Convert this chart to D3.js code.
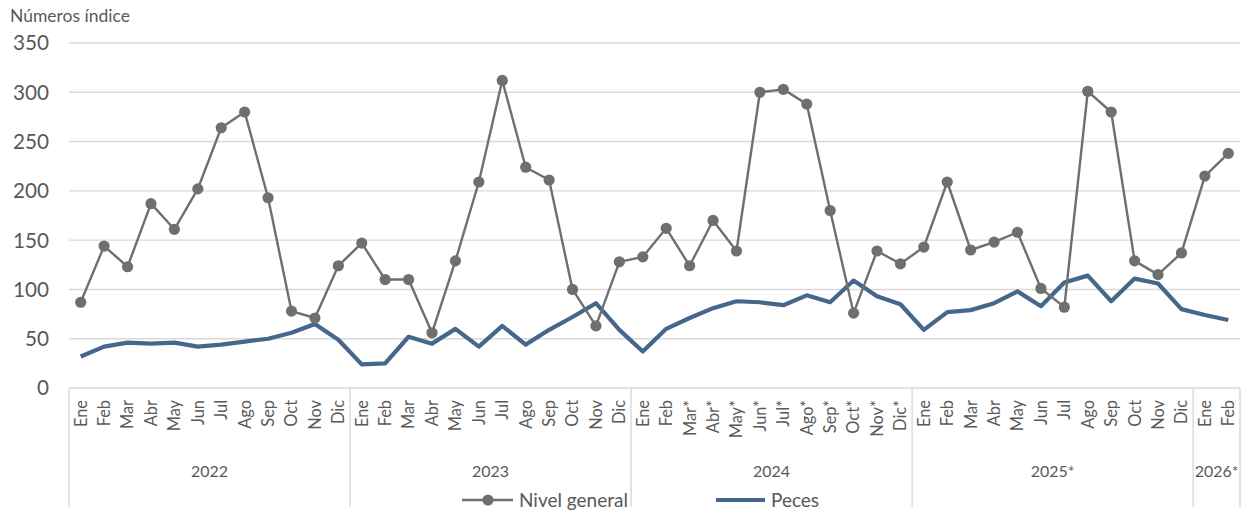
<!DOCTYPE html>
<html><head><meta charset="utf-8">
<script src="https://cdn.jsdelivr.net/npm/d3@7"></script>
<style>body{margin:0;background:#fff;} svg{display:block;font-family:Lato,"Open Sans",sans-serif;}</style>
</head><body><svg id="c" width="1247" height="513"></svg>
<script>
const months = ["Ene","Feb","Mar","Abr","May","Jun","Jul","Ago","Sep","Oct","Nov","Dic",
"Ene","Feb","Mar","Abr","May","Jun","Jul","Ago","Sep","Oct","Nov","Dic",
"Ene","Feb","Mar*","Abr*","May*","Jun*","Jul*","Ago*","Sep*","Oct*","Nov*","Dic*",
"Ene","Feb","Mar","Abr","May","Jun","Jul","Ago","Sep","Oct","Nov","Dic",
"Ene","Feb"];
const years = [{label:"2022",n:12},{label:"2023",n:12},{label:"2024",n:12},{label:"2025*",n:12},{label:"2026*",n:2}];
const nivelGeneral = [87,144,123,187,161,202,264,280,193,78,71,124,
147,110,110,56,129,209,312,224,211,100,63,128,
133,162,124,170,139,300,303,288,180,76,139,126,
143,209,140,148,158,101,82,301,280,129,115,137,
215,238];
const peces = [32,42,46,45,46,42,44,47,50,56,65,49,
24,25,52,45,60,42,63,44,59,72,86,59,
37,60,71,81,88,87,84,94,87,109,93,85,
59,77,79,86,98,83,107,114,88,111,106,80,
74,69];
const yTicks = [0,50,100,150,200,250,300,350];

const svg = d3.select("#c");
const L=69, R=1240, T=43, B=388;
const TXT="#595959";
const idx = d3.range(months.length);
const x = d3.scaleBand().domain(idx).range([L,R]);
const y = d3.scaleLinear().domain([0,350]).range([B,T]);
const cx = i => x(i)+x.bandwidth()/2;

// size a text group so that a reference node has a target width
function fit(sel, refNode, target){
  const w = refNode.getComputedTextLength();
  const fs = parseFloat(sel.attr("font-size"));
  sel.attr("font-size", (fs*target/w).toFixed(2));
}

// gridlines
svg.append("g").selectAll("line").data(yTicks).join("line")
  .attr("x1",L).attr("x2",R).attr("y1",d=>y(d)).attr("y2",d=>y(d))
  .attr("stroke","#d9d9d9").attr("stroke-width",1.4);
// y labels
const yl = svg.append("g").attr("font-size",19).attr("fill",TXT);
yl.selectAll("text").data(yTicks).join("text")
  .attr("x",49).attr("y",d=>y(d)).attr("dy","0.36em").attr("text-anchor","end").text(d=>d);
fit(yl, yl.selectAll("text").nodes()[7], 36);
const tt = svg.append("text").attr("x",10).attr("y",22).attr("font-size",16).attr("fill",TXT).text("Números índice");
fit(tt, tt.node(), 120);

// year separators
let start=0; const bounds=[0];
years.forEach(yr=>{start+=yr.n; bounds.push(start);});
const bx = b => b<months.length?x(b):R;
svg.append("g").selectAll("line").data(bounds).join("line")
  .attr("x1",bx).attr("x2",bx)
  .attr("y1",B).attr("y2",507).attr("stroke","#d9d9d9").attr("stroke-width",1.4);
// month labels
const ml = svg.append("g").attr("font-size",15).attr("fill",TXT);
ml.selectAll("text").data(idx).join("text")
  .attr("transform",i=>`translate(${cx(i)},400) rotate(-90)`)
  .attr("dy","0.36em").attr("text-anchor","end").text(i=>months[i]);
fit(ml, ml.selectAll("text").nodes()[0], 27);
// year labels
const yrl = svg.append("g").attr("font-size",16).attr("fill",TXT);
yrl.selectAll("text").data(years).join("text")
  .attr("x",(d,i)=>(bx(bounds[i])+bx(bounds[i+1]))/2)
  .attr("y",471).attr("dy","0.36em").attr("text-anchor","middle").text(d=>d.label);
fit(yrl, yrl.selectAll("text").nodes()[0], 37);

// lines
const line = d3.line().x((d,i)=>cx(i)).y(d=>y(d));
svg.append("path").datum(peces).attr("d",line).attr("fill","none")
  .attr("stroke","#44678b").attr("stroke-width",4.2).attr("stroke-linejoin","round");
svg.append("path").datum(nivelGeneral).attr("d",line).attr("fill","none")
  .attr("stroke","#6f6f6f").attr("stroke-width",2.4).attr("stroke-linejoin","round");
svg.append("g").selectAll("circle").data(nivelGeneral).join("circle")
  .attr("cx",(d,i)=>cx(i)).attr("cy",d=>y(d)).attr("r",5.6).attr("fill","#6f6f6f");

// legend
const lg = svg.append("g");
lg.append("line").attr("x1",462).attr("x2",513).attr("y1",500).attr("y2",500).attr("stroke","#6f6f6f").attr("stroke-width",2.4);
lg.append("circle").attr("cx",488).attr("cy",500).attr("r",5.6).attr("fill","#6f6f6f");
const lt = lg.append("g").attr("font-size",18).attr("fill",TXT);
const t1 = lt.append("text").attr("x",519).attr("y",500).attr("dy","0.36em").text("Nivel general");
lg.append("line").attr("x1",716).attr("x2",765).attr("y1",500).attr("y2",500).attr("stroke","#44678b").attr("stroke-width",4.2);
lt.append("text").attr("x",771).attr("y",500).attr("dy","0.36em").text("Peces");
fit(lt, t1.node(), 109);
</script></body></html>
